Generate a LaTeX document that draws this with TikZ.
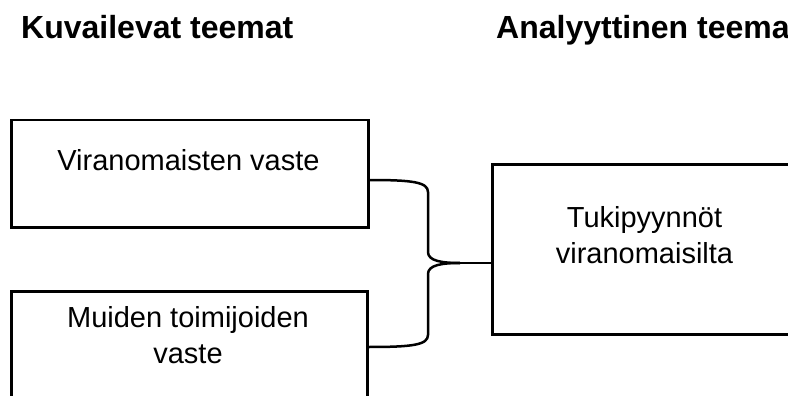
\documentclass[tikz,border=0pt]{standalone}
\usepackage{fontspec}
\setmainfont{Liberation Sans}
\begin{document}
\begin{tikzpicture}[x=1pt,y=-1pt,
  box/.style={draw, line width=2.5pt, inner sep=0pt, anchor=north west},
  txt/.style={font=\fontsize{29}{36}\selectfont, align=center, anchor=base, inner sep=0pt},
  ttl/.style={font=\fontsize{32}{38}\selectfont\bfseries, anchor=base west, inner sep=0pt},
  conn/.style={line width=2.5pt, line join=round}]
\useasboundingbox (0,0) rectangle (788,396);
\clip (0,0) rectangle (788,396);
% titles
\node[ttl] (h1) at (21,39) {Kuvailevat teemat};
\node[ttl] (h2) at (496,39) {Analyyttinen teema};
% boxes
\node[box, minimum width=357pt, minimum height=107pt] (b1) at (10,119) {};
\node[box, minimum width=356pt, minimum height=120pt] (b2) at (10,290) {};
\node[box, minimum width=310pt, minimum height=170pt] (r) at (491,163) {};
% texts
\node[txt] (t1) at (188.5,170) {Viranomaisten vaste};
\node[txt] (t2) at (188,363) {Muiden toimijoiden\\vaste};
\node[txt] (t3) at (644.5,263) {Tukipyynnöt\\viranomaisilta};
% brace connectors
\coordinate (a1) at (b1.east |- 0,180);
\coordinate (a2) at (b2.east |- 0,347);
\coordinate (tip) at (460,263);
\coordinate (rin) at (r.west |- tip);
\draw[conn] (a1) .. controls (412,180) and (428,182) .. (428,192) -- (428,252)
  .. controls (428,261) and (442,263) .. (tip);
\draw[conn] (a2) .. controls (412,347) and (428,345) .. (428,335) -- (428,274)
  .. controls (428,265) and (442,263) .. (tip);
\draw[conn] (tip) -- (rin);
\end{tikzpicture}
\end{document}
